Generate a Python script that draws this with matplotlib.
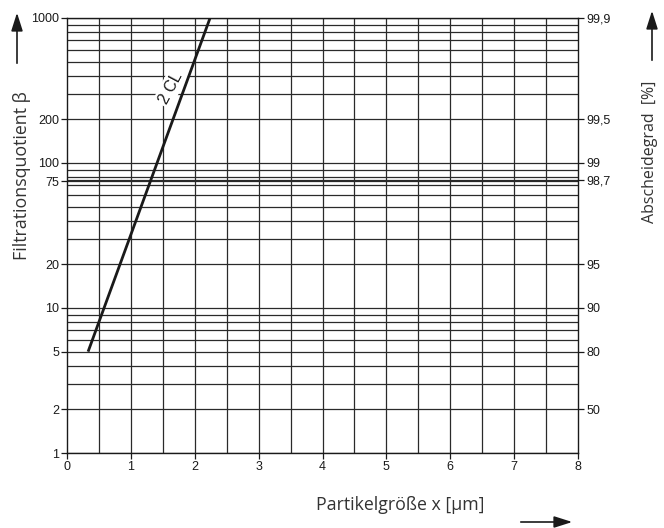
import matplotlib.pyplot as plt
from matplotlib.ticker import FixedLocator, NullLocator

# Daten aus dem Diagramm
x_line = [0.33, 2.24]          # Partikelgröße [µm]
beta_line = [5, 1000]          # Filtrationsquotient
line_name = '2 CL'

left_ticks = [1, 2, 5, 10, 20, 75, 100, 200, 1000]
left_labels = ['1', '2', '5', '10', '20', '75', '100', '200', '1000']
right_ticks = [2, 5, 10, 20, 76.92, 100, 200, 1000]
right_labels = ['50', '80', '90', '95', '98,7', '99', '99,5', '99,9']
x_ticks = [0, 1, 2, 3, 4, 5, 6, 7, 8]

grid_y = [m * 10 ** d for d in range(3) for m in range(1, 10)] + [75, 76.92, 1000]
grid_x = [i * 0.5 for i in range(1, 16)]

tick_font = 'Liberation Sans'
label_font = 'Open Sans'

fig = plt.figure(figsize=(6.64, 5.28), dpi=100)
ax = fig.add_axes([0.1009, 0.142, 0.7696, 0.824])

ax.set_yscale('log')
ax.set_xlim(0, 8)
ax.set_ylim(1, 1000)

for g in grid_y:
    ax.axhline(g, color='#2a2a2a', lw=0.9, zorder=1)
for g in grid_x:
    ax.axvline(g, color='#2a2a2a', lw=0.9, zorder=1)

ax.plot(x_line, beta_line, color='#1a1a1a', lw=2.0, zorder=3, solid_capstyle='butt')
ax.text(1.62, 330, line_name, rotation=62, ha='center', va='center', fontsize=11.5,
        family=tick_font, zorder=2.5, color='#1a1a1a',
        bbox=dict(facecolor='white', edgecolor='none', pad=1.8))

ax.yaxis.set_major_locator(FixedLocator(left_ticks))
ax.yaxis.set_minor_locator(NullLocator())
ax.set_yticklabels(left_labels)
ax.set_xticks(x_ticks)

for s in ax.spines.values():
    s.set_color('#1a1a1a')
    s.set_linewidth(1.0)

ax.tick_params(axis='both', direction='out', length=4, width=0.9, color='#1a1a1a',
               labelsize=9, pad=1.5, labelcolor='#1a1a1a')
for lab in ax.get_xticklabels() + ax.get_yticklabels():
    lab.set_family(tick_font)

ax2 = ax.twinx()
ax2.set_yscale('log')
ax2.set_ylim(1, 1000)
ax2.yaxis.set_major_locator(FixedLocator(right_ticks))
ax2.yaxis.set_minor_locator(NullLocator())
ax2.set_yticklabels(right_labels)
ax2.tick_params(axis='y', direction='out', length=4, width=0.9, color='#1a1a1a',
                labelsize=9, pad=2, labelcolor='#1a1a1a')
for lab in ax2.get_yticklabels():
    lab.set_family(tick_font)
for s in ax2.spines.values():
    s.set_visible(False)

# Achsentitel
fig.text(22 / 664, 1 - 176 / 528, 'Filtrationsquotient β', rotation=90, ha='center',
         va='center', fontsize=12.8, family=label_font, color='#333333')
fig.text(650 / 664, 1 - 152 / 528, 'Abscheidegrad  [%]', rotation=90, ha='center',
         va='center', fontsize=11.5, family=label_font, color='#333333')
fig.text(400 / 664, 1 - 505 / 528, 'Partikelgröße x [µm]', ha='center',
         va='center', fontsize=12.8, family=label_font, color='#333333')

arrow = dict(arrowstyle='-|>,head_length=1.1,head_width=0.35', color='#1a1a1a', lw=1.2)
fig.add_artist(plt.Annotation('', xy=(17 / 664, 1 - 10 / 528), xytext=(17 / 664, 1 - 66 / 528),
                              xycoords='figure fraction', arrowprops=arrow))
fig.add_artist(plt.Annotation('', xy=(652 / 664, 1 - 8 / 528), xytext=(652 / 664, 1 - 63 / 528),
                              xycoords='figure fraction', arrowprops=arrow))
fig.add_artist(plt.Annotation('', xy=(575 / 664, 1 - 522 / 528), xytext=(518 / 664, 1 - 522 / 528),
                              xycoords='figure fraction', arrowprops=arrow))

fig.savefig('out.png', dpi=100)
